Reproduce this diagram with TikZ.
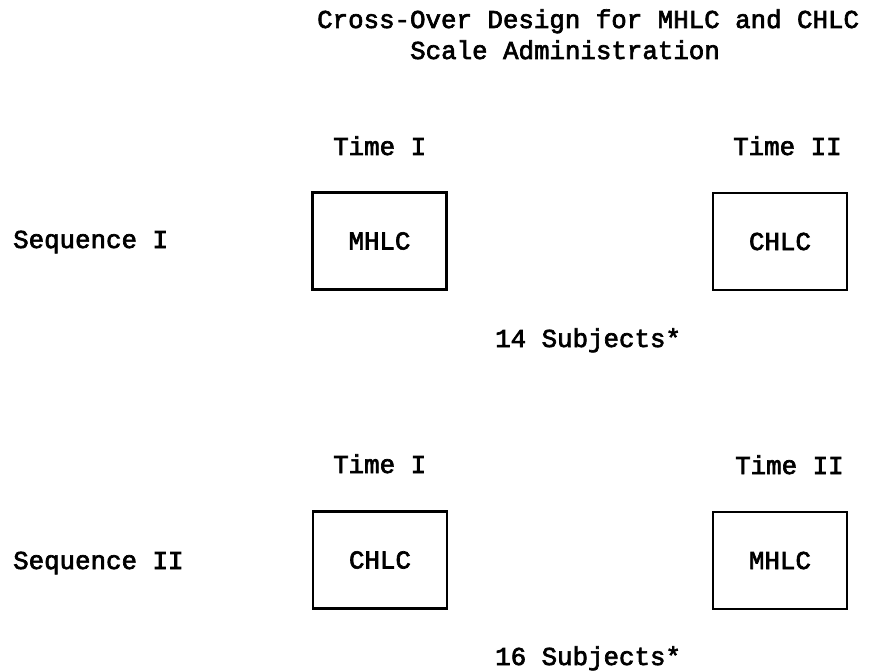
\documentclass[tikz,border=0pt]{standalone}
\usepackage{fontspec}
\newfontfamily\typefont{Liberation Mono}[FakeBold=2.6]
\begin{document}
\begin{tikzpicture}[x=1pt,y=-1pt,
  txt/.style={inner sep=0pt,anchor=base west,font=\typefont\fontsize{25.8}{30}\selectfont},
  cell/.style={draw,line width=2.2pt,minimum width=134pt,minimum height=97pt,inner sep=0pt,
    font=\typefont\fontsize{25.8}{30}\selectfont}]
\useasboundingbox (0,0) rectangle (878,671);
% heading
\node[txt] (title1) at (317,28) {Cross-Over Design for MHLC and CHLC};
\node[txt] (title2) at (410,59) {Scale Administration};
% first sequence
\node[txt] (timeIa)  at (333,155) {Time I};
\node[txt] (timeIIa) at (733,155) {Time II};
\node[txt] (seqI)    at (13,248)  {Sequence I};
\node[cell] (mhlcA) at (379.5,241) {MHLC};
\node[cell] (chlcA) at (780,241.5) {CHLC};
\node[txt] (subjA) at (495,347) {14 Subjects*};
% second sequence
\node[txt] (timeIb)  at (333,473) {Time I};
\node[txt] (timeIIb) at (735,474) {Time II};
\node[txt] (seqII)   at (13,569)  {Sequence II};
\node[cell] (chlcB) at (380,560) {CHLC};
\node[cell] (mhlcB) at (780,560.5) {MHLC};
\node[txt] (subjB) at (495,665) {16 Subjects*};
\end{tikzpicture}
\end{document}
